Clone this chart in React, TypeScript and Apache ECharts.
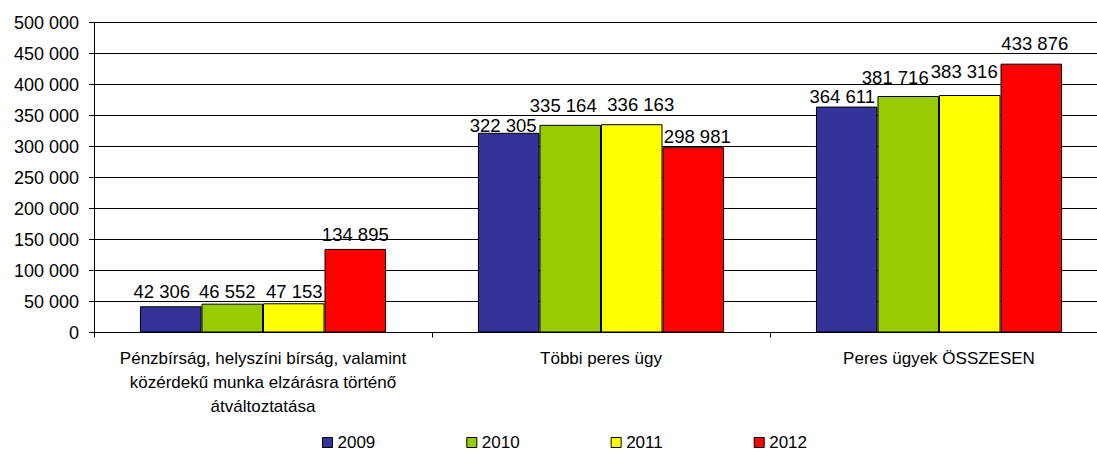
import React, { useEffect, useRef } from "react";
import * as echarts from "echarts";

const categories = [
  "Pénzbírság, helyszíni bírság, valamint\nközérdekű munka elzárásra történő\nátváltoztatása",
  "Többi peres ügy",
  "Peres ügyek ÖSSZESEN",
];
const seriesNames = ["2009", "2010", "2011", "2012"];
const values2009 = [42306, 322305, 364611];
const values2010 = [46552, 335164, 381716];
const values2011 = [47153, 336163, 383316];
const values2012 = [134895, 298981, 433876];
const seriesValues = [values2009, values2010, values2011, values2012];
const colors = ["#333399", "#99CC00", "#FFFF00", "#FF0000"];

// label nudges (dx, dy) per series and category, as placed in the original to avoid overlaps
const labelNudges = [
  [[-9, 0], [-5.5, 7], [-4.5, 4.6]],
  [[-5, 2.3], [-7, -5.2], [-13, -3.8]],
  [[0.5, 2.5], [9, -5], [-5.5, -9.4]],
  [[0, 0], [4, 4], [3.5, -5.9]],
];

const fmt = (v: number) => {
  const s = String(Math.round(v));
  return s.replace(/\B(?=(\d{3})+(?!\d))/g, " ");
};

const FONT = "'Liberation Sans', Arial, sans-serif";

export default function App() {
  const ref = useRef<HTMLDivElement>(null);
  useEffect(() => {
    if (!ref.current) return;
    document.documentElement.style.overflow = "hidden";
    document.body.style.overflow = "hidden";
    const chart = echarts.init(ref.current, null, { renderer: "svg" });
    chart.setOption({
      animation: false,
      textStyle: { fontFamily: FONT, color: "#000" },
      grid: { left: 94, right: 0, top: 22.7, bottom: 119.5 },
      legend: {
        left: 317,
        top: 429,
        padding: 5,
        itemWidth: 10,
        itemHeight: 10,
        itemGap: 91,
        icon: "rect",
        textStyle: { fontFamily: FONT, fontSize: 17, lineHeight: 14, color: "#000" },
        data: seriesNames.map((n, i) => ({
          name: n,
          itemStyle: { color: colors[i], borderColor: "#000", borderWidth: 1 },
        })),
      },
      xAxis: {
        type: "category",
        data: categories,
        axisLine: { lineStyle: { color: "#000", width: 1 } },
        axisTick: { show: true, alignWithLabel: false, length: 5, lineStyle: { color: "#000" } },
        axisLabel: {
          interval: 0,
          margin: 14,
          fontFamily: FONT,
          fontSize: 17,
          lineHeight: 24,
          color: "#000",
          align: "center",
        },
      },
      yAxis: {
        type: "value",
        min: 0,
        max: 500000,
        interval: 50000,
        axisLine: { show: true, lineStyle: { color: "#000", width: 1 } },
        axisTick: { show: true, length: 5, lineStyle: { color: "#000" } },
        splitLine: { show: true, lineStyle: { color: "#000", width: 1 } },
        axisLabel: {
          margin: 15,
          fontFamily: FONT,
          fontSize: 18,
          color: "#000",
          formatter: (v: number) => fmt(v),
        },
      },
      series: seriesNames.map((n, i) => ({
        name: n,
        type: "bar",
        data: seriesValues[i].map((v, j) => ({
          value: v,
          label: { offset: labelNudges[i][j] },
        })),
        barGap: "0%",
        barCategoryGap: "27.2%",
        itemStyle: { color: colors[i], borderColor: "#000", borderWidth: 1 },
        label: {
          show: true,
          position: "top",
          distance: 5,
          fontFamily: FONT,
          fontSize: 18.5,
          color: "#000",
          formatter: (p: any) => fmt(p.value),
        },
      })),
    });
    return () => chart.dispose();
  }, []);
  return (
    <div
      style={{
        position: "fixed",
        left: 0,
        top: 0,
        width: 1097,
        height: 452,
        overflow: "hidden",
        background: "#fff",
      }}
    >
      <div ref={ref} style={{ width: 1108, height: 452 }} />
    </div>
  );
}
